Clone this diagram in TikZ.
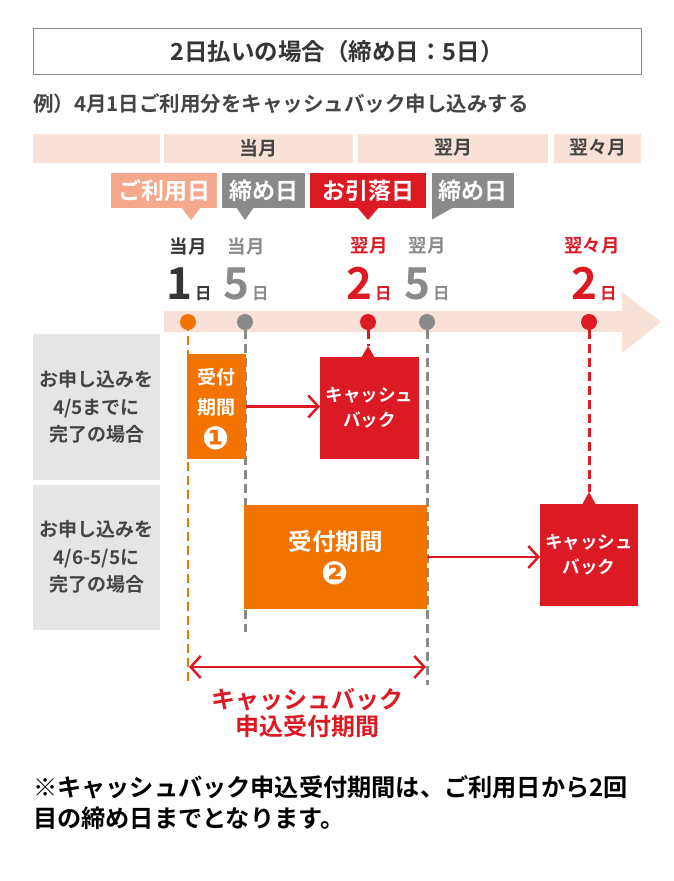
\documentclass[tikz,border=0pt]{standalone}
\usepackage{fontspec}
\setmainfont{Noto Sans CJK JP Bold}
\newfontfamily\dvfont{DejaVu Sans Bold}
\usetikzlibrary{arrows.meta}
\definecolor{cred}{HTML}{DC1A24}
\definecolor{corange}{HTML}{F27300}
\definecolor{csalmon}{HTML}{F4A98C}
\definecolor{cpink}{HTML}{FAE1D8}
\definecolor{cgray}{HTML}{8A8A8A}
\definecolor{clgray}{HTML}{E5E5E5}
\definecolor{cdark}{HTML}{353535}
\definecolor{ctext}{HTML}{444444}
\newcommand{\fsz}[2]{\fontsize{#1pt}{#2pt}\selectfont}
\tikzset{
  hdr/.style={fill=cpink, minimum height=29pt, text=ctext, font=\fsz{19}{22}},
  tagbox/.style={minimum height=35pt, text=white, font=\fsz{23}{26}},
  daylbl/.style={font=\fsz{18.5}{22}},
  bigday/.style={anchor=base},
  dotmark/.style={circle, minimum size=16pt},
  lblbox/.style={fill=clgray, minimum width=127pt, text=ctext, align=center, font=\fsz{19}{27.5}},
  obox/.style={fill=corange, text=white, align=center},
  rbox/.style={fill=cred, text=white, align=center, font=\fsz{17.5}{25}},
  circnum/.style={text=white, font=\dvfont\fsz{32}{32}},
  gdash/.style={draw=cgray, line width=3pt, dash pattern=on 9pt off 5pt},
  odash/.style={draw=corange, line width=2.5pt, dash pattern=on 9pt off 5pt},
  rdash/.style={draw=cred, line width=3pt, dash pattern=on 9pt off 5pt},
  barb/.tip={Straight Barb[length=10pt,width=22pt,line width=2.5pt]},
  rarrow/.style={draw=cred, line width=2.5pt, -barb},
  rdarrow/.style={draw=cred, line width=2.5pt, barb-barb},
}
\newcommand{\bd}[1]{{\fsz{44}{44}#1}\hspace{3pt}{\fsz{16.5}{18}日}}
\begin{document}
\begin{tikzpicture}[x=1pt,y=-1pt, every node/.style={inner sep=0pt, outer sep=0pt}]
\useasboundingbox (0,0) rectangle (674,881);
\fill[white] (0,0) rectangle (674,881);

% title and subtitle
\node[draw=cgray, line width=1pt, minimum width=608pt, minimum height=46pt, text=cdark, font=\fsz{23.5}{28}] (title) at (337,51.5) {2日払いの場合（締め日：5日）};
\node[anchor=west, text=ctext, font=\fsz{20.5}{24}] (sub) at (33,104) {例）4月1日ご利用分をキャッシュバック申し込みする};

% month header
\node[hdr, minimum width=127pt] (h0) at (96.5,148) {};
\node[hdr, minimum width=189pt] (h1) at (258.5,148) {当月};
\node[hdr, minimum width=190pt] (h2) at (453,148) {翌月};
\node[hdr, minimum width=87pt] (h3) at (597.5,148) {翌々月};

% tags
\node[tagbox, fill=csalmon, minimum width=106pt] (tg1) at (164,190.5) {ご利用日};
\fill[csalmon] (181,207) -- (201,207) -- (191,220) -- cycle;
\node[tagbox, fill=cgray, minimum width=83pt] (tg2) at (263.5,190.5) {締め日};
\fill[cgray] (236,207) -- (254,207) -- (245,220) -- cycle;
\node[tagbox, fill=cred, minimum width=116pt] (tg3) at (368,190.5) {お引落日};
\fill[cred] (357,207) -- (379,207) -- (368,220) -- cycle;
\node[tagbox, fill=cgray, minimum width=82pt] (tg4) at (473,190.5) {締め日};
\fill[cgray] (432,207) -- (454,207) -- (432,219.5) -- cycle;

% day labels
\node[daylbl, text=cdark] (m1) at (188,246) {当月};
\node[daylbl, text=cgray] (m2) at (246,246) {当月};
\node[daylbl, text=cred] (m3) at (369,246) {翌月};
\node[daylbl, text=cgray] (m4) at (427,246) {翌月};
\node[daylbl, text=cred] (m5) at (592,246) {翌々月};
\node[bigday, text=cdark] (n1) at (189,299) {\bd{1}};
\node[bigday, text=cgray] (n2) at (246,299) {\bd{5}};
\node[bigday, text=cred] (n3) at (369,299) {\bd{2}};
\node[bigday, text=cgray] (n4) at (427,299) {\bd{5}};
\node[bigday, text=cred] (n5) at (594,299) {\bd{2}};

% timeline band
\fill[cpink] (164,311) -- (622,311) -- (622,292) -- (661,322) -- (622,353) -- (622,332) -- (164,332) -- cycle;

% left labels
\node[lblbox, minimum height=146pt] (l1) at (96.5,407) {お申し込みを\\4/5までに\\完了の場合};
\node[lblbox, minimum height=145pt] (l2) at (96.5,557) {お申し込みを\\4/6-5/5に\\完了の場合};

% dots
\node[dotmark, fill=corange] (d1) at (188,322) {};
\node[dotmark, fill=cgray] (d2) at (245,322) {};
\node[dotmark, fill=cred] (d3) at (368,322) {};
\node[dotmark, fill=cgray] (d4) at (427,322) {};
\node[dotmark, fill=cred] (d5) at (589,322) {};

% dashed guide lines
\coordinate (e1) at (188,685);
\coordinate (e2) at (245,632);
\coordinate (e4) at (427,685);
\coordinate (t1) at (368,346);
\coordinate (t2) at (589,492);
\draw[odash] (d1.center) -- (e1);
\draw[gdash] (d2.south) -- (e2);
\draw[gdash] (d4.south) -- (e4);
\draw[rdash] (d3.south) -- (t1);
\draw[rdash] (d5.south) -- (t2);

% boxes
\node[obox, minimum width=59pt, minimum height=105pt] (ob1) at (216.5,406.5) {};
\node[text=white, align=center, font=\fsz{19}{30.5}] (ob1t) at (216.5,392) {受付\\期間};
\node[circnum] (ob1n) at (216.5,438) {❶};
\node[rbox, minimum width=99pt, minimum height=102pt] (rb1) at (369.5,408) {キャッシュ\\バック};
\fill[cred] (361,358) -- (375,358) -- (368,346) -- cycle;
\node[obox, minimum width=183pt, minimum height=104pt] (ob2) at (335.5,557) {};
\node[text=white, font=\fsz{23.5}{28}] (ob2t) at (335.5,542) {受付期間};
\node[circnum] (ob2n) at (335.5,573) {❷};
\node[rbox, minimum width=98pt, minimum height=102pt] (rb2) at (589,555) {キャッシュ\\バック};
\fill[cred] (582,505) -- (596,505) -- (589,492) -- cycle;

% arrows
\draw[rarrow] (ob1.east) -- (ob1.east -| rb1.west);
\draw[rarrow] (ob2.east) -- (ob2.east -| rb2.west);
\coordinate (a1) at (189,667);
\coordinate (a2) at (426,667);
\draw[rdarrow] (a1) -- (a2);

% period label
\node[text=cred, align=center, font=\fsz{24}{27}] (plbl) at (307,713) {キャッシュバック\\申込受付期間};

% note
\node[anchor=west, text=black, font=\fsz{24.2}{28}] (note1) at (33,787) {※キャッシュバック申込受付期間は、ご利用日から2回};
\node[anchor=west, text=black, font=\fsz{24.2}{28}] (note2) at (33,818) {目の締め日までとなります。};
\end{tikzpicture}
\end{document}
